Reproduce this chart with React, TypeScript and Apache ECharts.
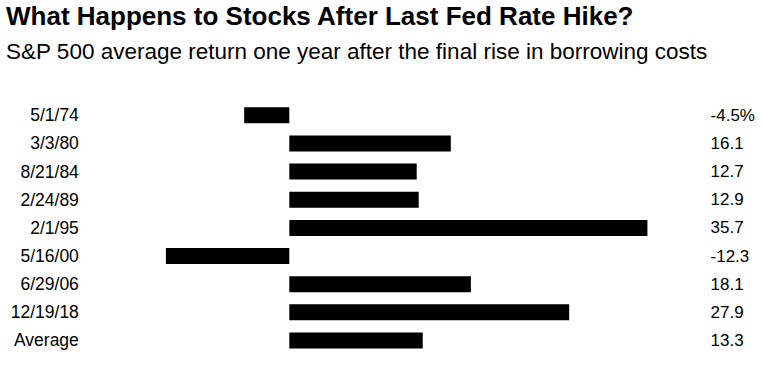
import React, { useEffect, useRef } from "react";
import * as echarts from "echarts";

const categories = ["5/1/74", "3/3/80", "8/21/84", "2/24/89", "2/1/95", "5/16/00", "6/29/06", "12/19/18", "Average"];
const returns = [-4.5, 16.1, 12.7, 12.9, 35.7, -12.3, 18.1, 27.9, 13.3];
const valueLabels = ["-4.5%", "16.1", "12.7", "12.9", "35.7", "-12.3", "18.1", "27.9", "13.3"];

const titleText = "What Happens to Stocks After Last Fed Rate Hike?";
const subtitleText = "S&P 500 average return one year after the final rise in borrowing costs";

export default function App() {
  const ref = useRef<HTMLDivElement>(null);
  useEffect(() => {
    if (!ref.current) return;
    const chart = echarts.init(ref.current, undefined, { renderer: "svg" });
    const font = "'Liberation Sans', Arial, Helvetica, sans-serif";
    chart.setOption({
      animation: false,
      backgroundColor: "#ffffff",
      title: [
        {
          text: titleText,
          left: 6,
          top: 3,
          padding: 0,
          textStyle: {
            fontFamily: font,
            fontWeight: "bold",
            fontSize: 26,
            color: "#000",
          },
        },
        {
          text: subtitleText,
          left: 6,
          top: 40,
          padding: 0,
          textStyle: {
            fontFamily: font,
            fontWeight: "normal",
            fontSize: 22.5,
            color: "#000",
          },
        },
      ],
      grid: { left: 138.85, width: 551.7, top: 101.2, height: 253.35, containLabel: false },
      xAxis: {
        type: "value",
        min: -15,
        max: 40,
        show: false,
      },
      yAxis: [
        {
          type: "category",
          data: categories,
          inverse: true,
          position: "left",
          axisLine: { show: false },
          axisTick: { show: false },
          splitLine: { show: false },
          axisLabel: { margin: 60, fontFamily: font, fontSize: 17.5, color: "#000", align: "right" },
        },
        {
          type: "category",
          data: valueLabels,
          inverse: true,
          position: "right",
          axisLine: { show: false },
          axisTick: { show: false },
          splitLine: { show: false },
          axisLabel: { margin: 20, fontFamily: font, fontSize: 17, color: "#000", align: "left" },
        },
      ],
      series: [
        {
          type: "bar",
          data: returns,
          yAxisIndex: 0,
          barWidth: 16,
          itemStyle: { color: "#000" },
        },
      ],
    });
    return () => chart.dispose();
  }, []);
  return <div ref={ref} style={{ position: "fixed", left: 0, top: 0, width: 764, height: 369 }} />;
}
